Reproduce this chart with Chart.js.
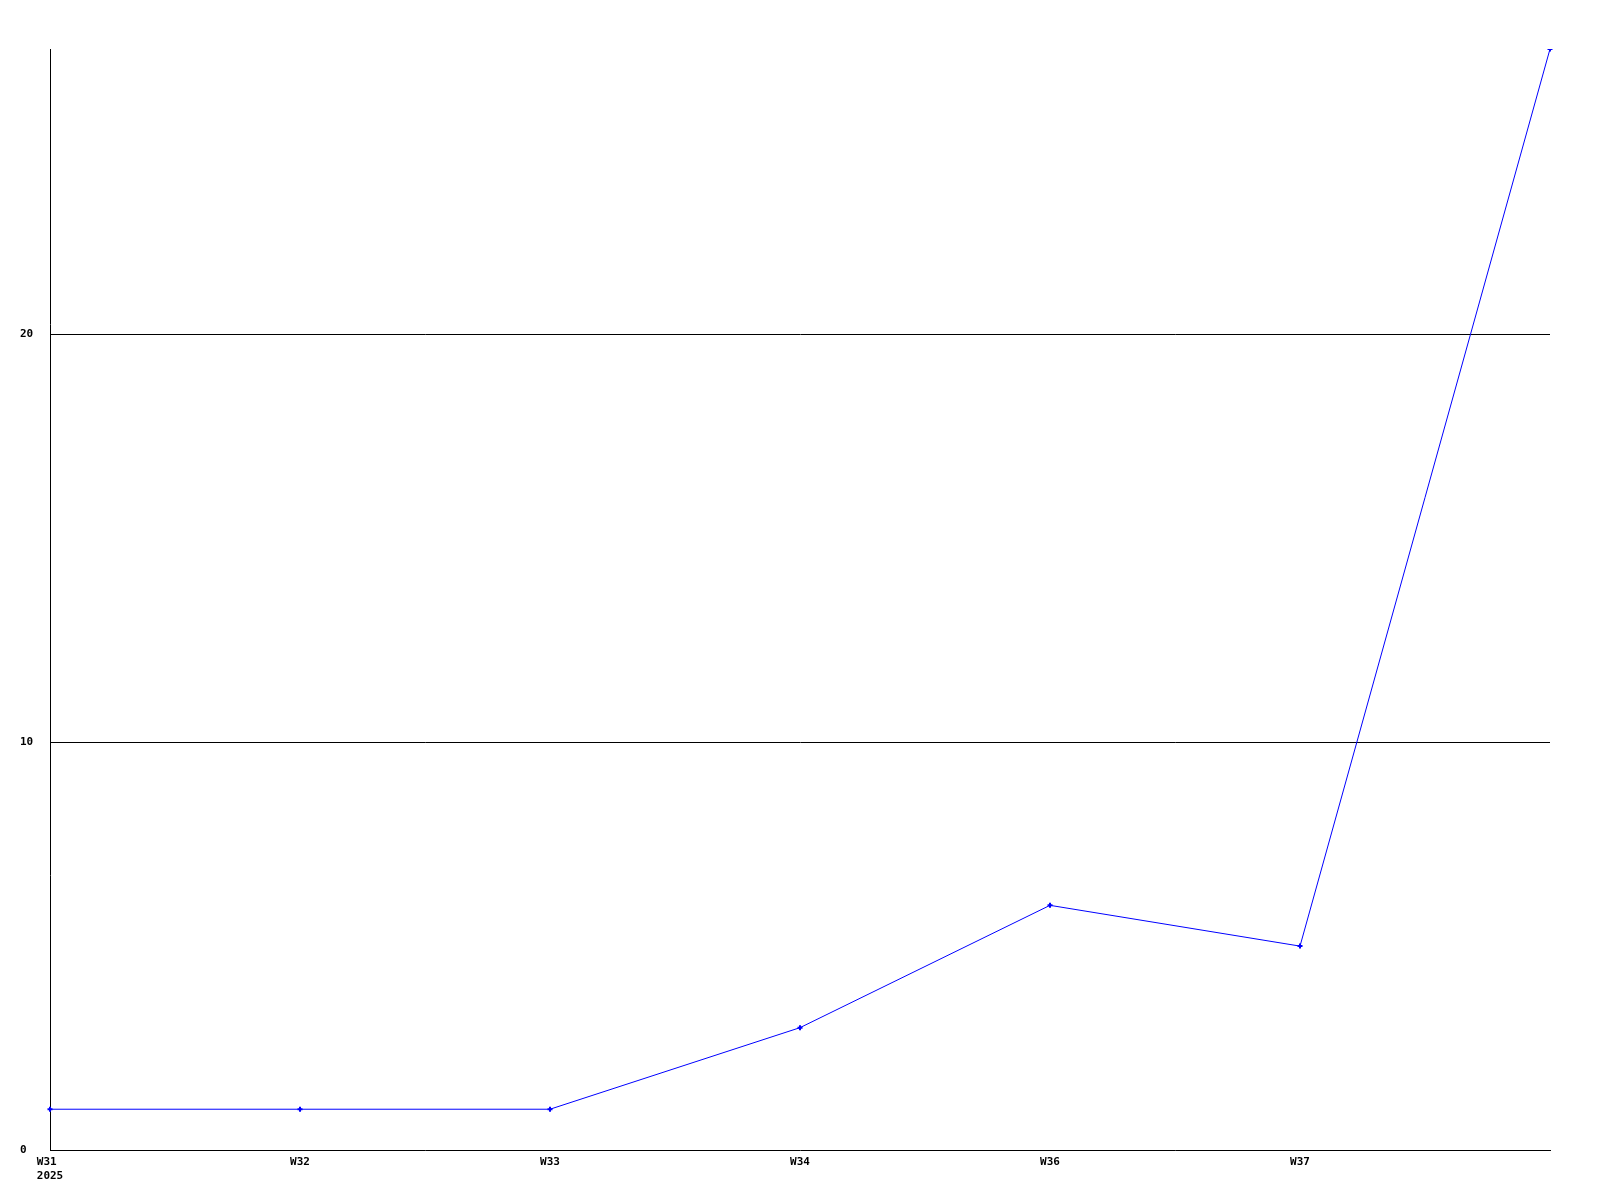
<!DOCTYPE html>
<html>
<head>
<meta charset="utf-8">
<script src="https://cdn.jsdelivr.net/npm/chart.js@4"></script>
<style>
  html, body { margin: 0; padding: 0; background: #fff; }
  #wrap { width: 1600px; height: 1200px; }
</style>
</head>
<body>
<div id="wrap"><canvas id="weekChart" width="1600" height="1200"></canvas></div>
<script>
// weekly counts
// trailing space on W31 so the year line starts under the week line
const weekLabels = [['W31 ', '2025'], 'W32', 'W33', 'W34', 'W36', 'W37', ''];
const weekValues = [1, 1, 1, 3, 6, 5, 27];
const yTicks = [0, 10, 20];

const tickFont = { family: '"DejaVu Sans Mono", "Liberation Mono", monospace', size: 11, weight: 'bold' };

const ctx = document.getElementById('weekChart').getContext('2d');

new Chart(ctx, {
  type: 'line',
  data: {
    labels: weekLabels,
    datasets: [{
      data: weekValues,
      borderColor: '#0000ff',
      backgroundColor: '#0000ff',
      borderWidth: 1,
      tension: 0,
      fill: false,
      pointStyle: 'cross',
      pointRadius: 2.5,
      pointBorderWidth: 2,
      pointHoverRadius: 3
    }]
  },
  options: {
    responsive: false,
    animation: false,
    layout: { padding: { left: 20, right: 50, top: 49, bottom: 0 } },
    plugins: {
      legend: { display: false },
      tooltip: { enabled: false }
    },
    scales: {
      x: {
        offset: false,
        grid: { display: false, drawTicks: false },
        border: { display: true, color: '#000', width: 1 },
        ticks: {
          color: '#000',
          font: tickFont,
          padding: 6,
          maxRotation: 0,
          autoSkip: false
        },
        afterFit: (scale) => { scale.height = 50; }
      },
      y: {
        min: 0,
        max: 27,
        afterBuildTicks: (scale) => {
          scale.ticks = yTicks.map(v => ({ value: v }));
        },
        grid: {
          drawTicks: false,
          color: (c) => (c.tick && c.tick.value === 0 ? 'rgba(0,0,0,0)' : '#000'),
          lineWidth: 1
        },
        border: { display: true, color: '#000', width: 1 },
        ticks: {
          color: '#000',
          font: tickFont,
          crossAlign: 'far',
          padding: 0
        },
        afterFit: (scale) => { scale.width = 30; }
      }
    }
  }
});
</script>
</body>
</html>
